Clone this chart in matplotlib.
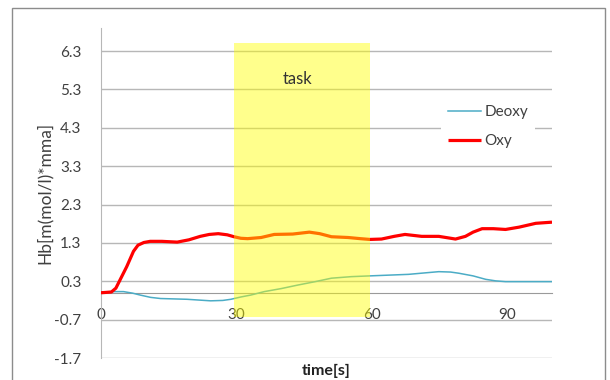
import matplotlib
matplotlib.use("Agg")
import matplotlib.pyplot as plt
from matplotlib.patches import Rectangle

plt.rcParams['font.family'] = ['Lato', 'DejaVu Sans']

# Data
oxy_t = [0, 2.3, 3.3, 4.2, 5.7, 7.2, 8.2, 9.5, 10.9, 13.5, 16.9, 19.5, 22, 24, 26, 28, 29.5,
         31, 32.5, 35.5, 38.4, 42.5, 46.2, 48.5, 51.1, 54.8, 57.5, 59.6, 62.2, 65, 67.4,
         71.1, 74.9, 78.6, 80.8, 82.5, 84.5, 87.0, 89.7, 92.7, 96.4, 100]
oxy_v = [0.0, 0.02, 0.12, 0.33, 0.68, 1.08, 1.24, 1.31, 1.34, 1.34, 1.32, 1.38, 1.47, 1.52,
         1.54, 1.51, 1.46, 1.42, 1.41, 1.44, 1.52, 1.53, 1.58, 1.54, 1.46, 1.44, 1.41, 1.39,
         1.4, 1.47, 1.52, 1.47, 1.47, 1.4, 1.47, 1.58, 1.67, 1.67, 1.65, 1.71, 1.81, 1.84]
deoxy_t = [0, 2.5, 5.0, 7.0, 8.7, 11.0, 13.2, 19.1, 24.3, 27.0, 28.8, 31.0, 33.2, 36.2,
           40.0, 43.6, 47.5, 51.1, 55.5, 59.6, 68.2, 72.0, 74.9, 77.5, 79.3, 82.5, 85.3,
           87.5, 89.7, 95, 100]
deoxy_v = [0.02, 0.03, 0.03, -0.01, -0.06, -0.12, -0.15, -0.17, -0.21, -0.2, -0.17, -0.11,
           -0.06, 0.03, 0.11, 0.2, 0.29, 0.38, 0.42, 0.44, 0.48, 0.52, 0.55, 0.54, 0.51,
           0.44, 0.35, 0.31, 0.29, 0.29, 0.29]
yticks = [-1.7, -0.7, 0.3, 1.3, 2.3, 3.3, 4.3, 5.3, 6.3]
xticks = [0, 30, 60, 90]
task_start, task_end = 29.4, 59.6

W, H = 610, 380
fig = plt.figure(figsize=(W / 100, H / 100), dpi=100)
ax = fig.add_axes([101 / W, 1 - 358 / H, (552 - 101) / W, (358 - 28) / H])

txt = '#404040'
grid = '#B7B7B7'

ax.set_xlim(0, 100)
ax.set_ylim(-1.7, 6.9)
ax.set_yticks(yticks)
ax.set_yticklabels([f"{v:.1f}" for v in yticks])
ax.set_xticks(xticks)
ax.set_xticklabels([str(v) for v in xticks])
for v in yticks:
    ax.axhline(v, color=grid, lw=1.0, zorder=1)

for s in ['top', 'right']:
    ax.spines[s].set_visible(False)
ax.spines['bottom'].set_position(('data', 0))
ax.spines['bottom'].set_color('#9A9A9A')
ax.spines['left'].set_color('#B7B7B7')
ax.tick_params(axis='both', length=0, labelsize=11, labelcolor=txt)
ax.tick_params(axis='y', pad=14)
ax.tick_params(axis='x', pad=11)

ax.plot(deoxy_t, deoxy_v, color='#4BACC6', lw=1.1, label='Deoxy', zorder=3)
ax.plot(oxy_t, oxy_v, color='#FF0000', lw=2.3, label='Oxy', zorder=4,
        solid_capstyle='butt', solid_joinstyle='round')

ax.add_patch(Rectangle((task_start, -0.64), task_end - task_start, 6.52 + 0.64,
                       facecolor='#FFFF00', alpha=0.45, edgecolor='none', zorder=5,
                       clip_on=False))
ax.text(43.6, 5.57, 'task', fontsize=12, color='#333333', ha='center', va='center',
        zorder=6)

ax.set_ylabel('Hb[m(mol/l)*mma]', fontsize=12.5, color=txt)
ax.yaxis.set_label_coords((45 - 101) / (552 - 101), 0.5)
ax.yaxis.label.set_va('center')
ax.set_xlabel('time[s]', fontsize=11.5, color='#222222', fontweight='bold')
ax.xaxis.set_label_coords(0.5, -(371 - 358) / (358 - 28))
ax.xaxis.label.set_va('center')

leg = ax.legend(loc='upper left', bbox_to_anchor=(441 / W, 1 - 98 / H),
                bbox_transform=fig.transFigure, frameon=True, fancybox=False,
                framealpha=1, edgecolor='none', facecolor='white', fontsize=11,
                handlelength=2.2, handletextpad=0.2, labelspacing=1.0,
                borderpad=0.45, borderaxespad=0)
for t in leg.get_texts():
    t.set_color(txt)
leg.set_zorder(7)

fig.patches.append(Rectangle((12 / W, -0.1), (605 - 12) / W, 1 - 8 / H + 0.1,
                             transform=fig.transFigure, fill=False,
                             edgecolor='#8C8C8C', lw=1.0))

fig.savefig('out.png', dpi=100)
